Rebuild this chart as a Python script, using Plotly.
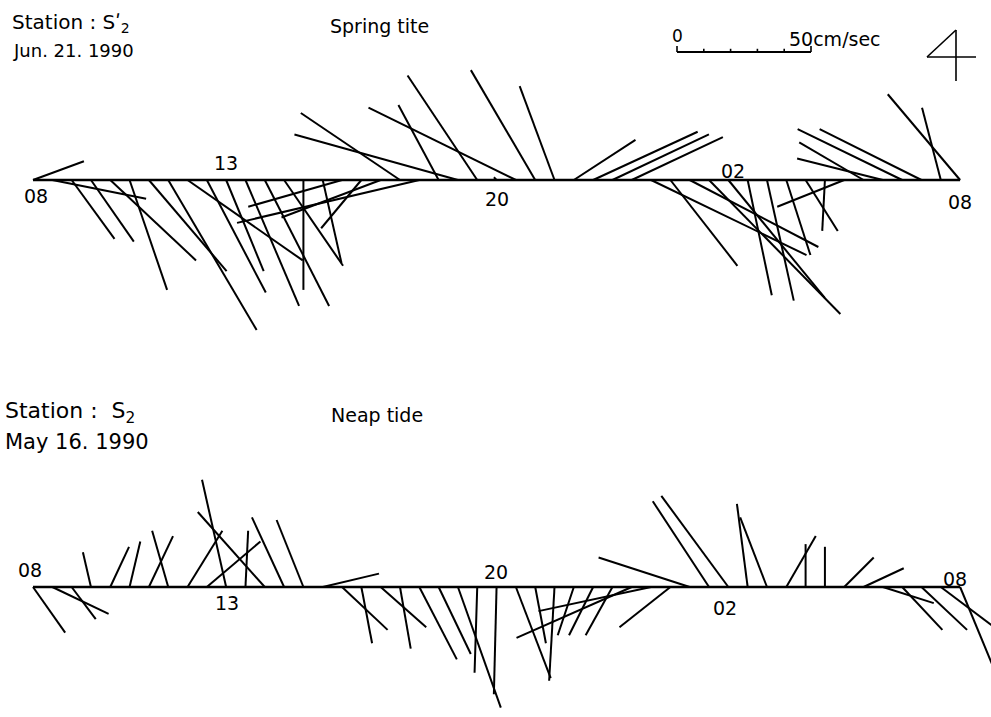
import plotly.graph_objects as go

# ---------------- data ----------------
# hours after 08:00, half-hourly readings
TIMES = [0, 0.5, 1, 1.5, 2, 2.5, 3, 3.5, 4, 4.5, 5, 5.5, 6, 6.5, 7, 7.5, 8, 8.5,
         9, 9.5, 10, 10.5, 11, 11.5, 12, 12.5, 13, 13.5, 14, 14.5, 15, 15.5,
         16, 16.5, 17, 17.5, 18, 18.5, 19, 19.5, 20, 20.5, 21, 21.5, 22, 22.5,
         23, 23.5, 24]
TICK_HOURS = [0, 5, 12, 18, 24]
TICK_LABELS = ["08", "13", "20", "02", "08"]

# Spring tide, Jun. 21 1990 (east / north components, cm/sec)
SPRING_U = [19, 35, 16, 16, 32, 14, 29, 33, 43, 22, 14, 20, 24, 22, 0, 7,
            -35, -15, -37, -37, -68, -15, -61, -26, -1, -55, -24, -13, 23, 39,
            36, 34, 58, 25, 48, 49, 36, 9, 10, 9, 12, -1, -25, -24, -32, -39,
            -38, -7, -27]
SPRING_V = [7, -7, -22, -23, -30, -41, -34, -56, -30, -42, -34, -47, -47, -32,
            -41, -31, -10, -18, -14, 25, -16, 28, 17, 39, 1, 27, 41, 35, 15, 18,
            17, 16, -28, -32, -25, -50, -44, -43, -45, -28, -19, -19, -10, 14,
            8, 19, 19, 27, 32]

# Neap tide, May 16 1990 (east / north components, cm/sec)
NEAP_U = [12, 21, 9, -3, 7, 4, 9, -6, 13, 20, -9, 1, -25, -12, -10, 21, 17,
          4, 17, 4, 14, 12, 16, -1, -1, 13, 4, -2, -6, -9, -10, -43, -42, -19,
          -34, -21, -25, -4, -10, 11, 0, 0, 11, 15, 19, 15, 17, 20, 12]
NEAP_V = [-17, -10, -12, 13, 15, 17, 19, 21, 21, 17, 40, 21, 28, 26, 25, 5,
          -16, -21, -15, -23, -27, -25, -45, -32, -40, -34, -21, -35, -18, -18,
          -18, -19, -9, -15, 11, 32, 34, 31, 26, 19, 16, 15, 11, 7, -6, -16,
          -16, -15, -29]

SCALE_TICKS = [0, 10, 20, 30, 40, 50]   # cm/sec

# ---------------- geometry / style ----------------
FIG_W, FIG_H = 991, 717
X0_PX = 33            # pixel position of hour 0
PX_PER_HOUR = 38.63
PX_PER_CMS = 2.68
TOP_BASE_PX = 180
BOT_BASE_PX = 587
HOURS_PER_CMS = PX_PER_CMS / PX_PER_HOUR
FONT = "'DejaVu Sans', sans-serif"

xr = [-X0_PX / PX_PER_HOUR, (FIG_W - X0_PX) / PX_PER_HOUR]
yr_top = [-(FIG_H - TOP_BASE_PX) / PX_PER_CMS, TOP_BASE_PX / PX_PER_CMS]
yr_bot = [-(FIG_H - BOT_BASE_PX) / PX_PER_CMS, BOT_BASE_PX / PX_PER_CMS]


def sticks(times, u, v):
    xs, ys = [], []
    for t, a, b in zip(times, u, v):
        xs += [t, t + a * HOURS_PER_CMS, None]
        ys += [0, b, None]
    return xs, ys


fig = go.Figure()
line = dict(color="black", width=2)

for (u, v, yax) in [(SPRING_U, SPRING_V, "y"), (NEAP_U, NEAP_V, "y2")]:
    fig.add_trace(go.Scatter(x=[TIMES[0], TIMES[-1]], y=[0, 0], mode="lines",
                             line=dict(color="black", width=2.6), yaxis=yax,
                             hoverinfo="skip", showlegend=False))
    xs, ys = sticks(TIMES, u, v)
    fig.add_trace(go.Scatter(x=xs, y=ys, mode="lines", line=line, yaxis=yax,
                             hoverinfo="skip", showlegend=False))

# scale bar (top panel)
sb_x0 = (677 - X0_PX) / PX_PER_HOUR
sb_y = (TOP_BASE_PX - 52) / PX_PER_CMS
bx = [sb_x0 + SCALE_TICKS[0] * HOURS_PER_CMS, sb_x0 + SCALE_TICKS[-1] * HOURS_PER_CMS]
fig.add_trace(go.Scatter(x=bx, y=[sb_y, sb_y], mode="lines",
                         line=dict(color="black", width=1.8), hoverinfo="skip",
                         showlegend=False))
tx, ty = [], []
for i, s in enumerate(SCALE_TICKS):
    h = 2.2 if i in (0, len(SCALE_TICKS) - 1) else 1.2
    tx += [sb_x0 + s * HOURS_PER_CMS] * 2 + [None]
    ty += [sb_y, sb_y + h, None]
fig.add_trace(go.Scatter(x=tx, y=ty, mode="lines",
                         line=dict(color="black", width=1.6), hoverinfo="skip",
                         showlegend=False))

ann = []


def ptext(text, px, py, size, xanchor="left"):
    ann.append(dict(text=text, x=px / FIG_W, y=1 - py / FIG_H, xref="paper",
                    yref="paper", xanchor=xanchor, yanchor="top",
                    showarrow=False, font=dict(family=FONT, size=size,
                                               color="black")))


ptext("Station : Sʹ<sub>2</sub>", 10, 8, 20)
ptext("Jun. 21. 1990", 11, 38, 18)
ptext("Spring tite", 328, 13, 19)
ptext("0", 670, 24, 17)
ptext("50cm/sec", 787, 26, 19)

ptext("Station :\u00a0 S<sub>2</sub>", 3, 396, 22)
ptext("May 16. 1990", 3, 428, 21)
ptext("Neap tide", 329, 402, 19)

# time labels
top_off = [(3, -16), (0, 17), (0, -19), (5, 9), (0, -22)]
bot_off = [(-3, 17), (1, -16), (-1, 15), (-3, -21), (-5, 8)]
for h, lab, (dx, dy) in zip(TICK_HOURS, TICK_LABELS, top_off):
    ann.append(dict(text=lab, x=h, y=0, xref="x", yref="y", xshift=dx,
                    yshift=dy, showarrow=False,
                    font=dict(family=FONT, size=19, color="black")))
for h, lab, (dx, dy) in zip(TICK_HOURS, TICK_LABELS, bot_off):
    ann.append(dict(text=lab, x=h, y=0, xref="x", yref="y2", xshift=dx,
                    yshift=dy, showarrow=False,
                    font=dict(family=FONT, size=19, color="black")))

# north-arrow-like glyph
shapes = []
for (x0, y0, x1, y1) in [(956, 30, 956, 81), (956, 30, 927, 57), (927, 57, 976, 57)]:
    shapes.append(dict(type="line", xref="paper", yref="paper",
                       x0=x0 / FIG_W, x1=x1 / FIG_W, y0=1 - y0 / FIG_H,
                       y1=1 - y1 / FIG_H, line=dict(color="black", width=1.6)))

axis_off = dict(visible=False, showgrid=False, zeroline=False, fixedrange=True)
fig.update_layout(
    width=FIG_W, height=FIG_H, autosize=False,
    margin=dict(l=0, r=0, t=0, b=0),
    paper_bgcolor="white", plot_bgcolor="white",
    xaxis=dict(range=xr, domain=[0, 1], **axis_off),
    yaxis=dict(range=yr_top, domain=[0, 1], **axis_off),
    yaxis2=dict(range=yr_bot, domain=[0, 1], overlaying="y", **axis_off),
    annotations=ann, shapes=shapes, showlegend=False,
)

fig.write_html("out.html", include_plotlyjs=True,
               config={"displayModeBar": False, "staticPlot": True},
               post_script="document.body.style.margin='0';"
                           "document.body.style.overflow='hidden';")
